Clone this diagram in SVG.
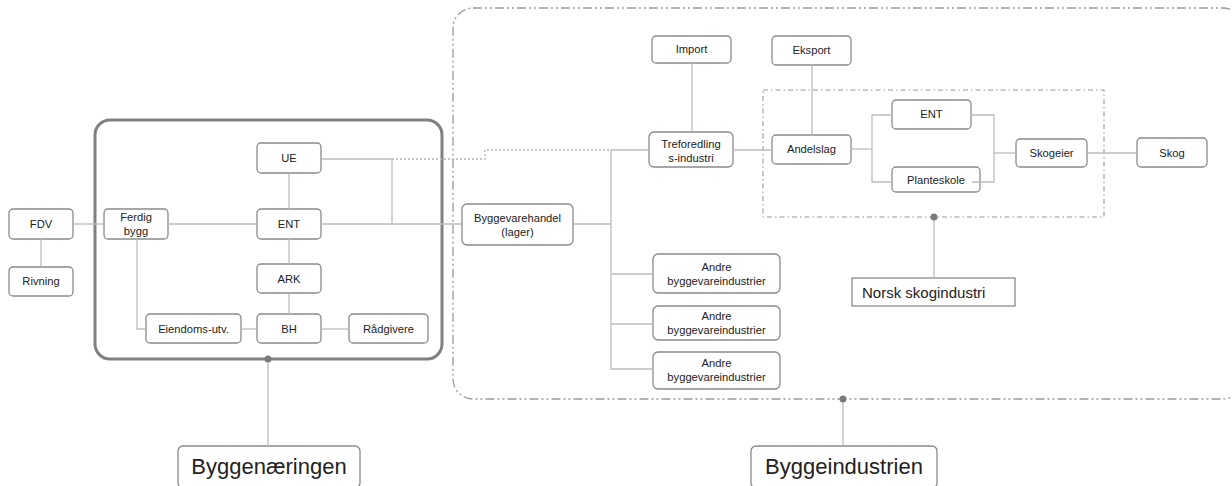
<svg xmlns="http://www.w3.org/2000/svg" width="1232" height="486" viewBox="0 0 1232 486">
<style>
.n rect{fill:#fff;stroke:#8a8a8a;stroke-width:1.3}
.n text{font-family:"Liberation Sans",Arial,sans-serif;font-size:11.2px;fill:#222;text-anchor:middle}
.c line,.c polyline{fill:none;stroke:#bdbdbd;stroke-width:1.3}
.c .dot{stroke:#b5b5b5;stroke-dasharray:2 2}
.n text.big{font-size:22px}
.n text.lab{font-size:15px;text-anchor:start}
</style>
<g id="frames">
<rect x="95" y="120" width="347" height="239" rx="15" fill="none" stroke="#808080" stroke-width="3"/>
<rect x="453" y="8" width="790" height="391" rx="20" fill="none" stroke="#9a9a9a" stroke-width="1.3" stroke-dasharray="9 3 2 3 2 3"/>
<rect x="763" y="90" width="341" height="127" fill="none" stroke="#9a9a9a" stroke-width="1.1" stroke-dasharray="5 3 1.5 3"/>
</g>
<g id="FDV" class="n"><rect x="9" y="209" width="64" height="30" rx="4"/><text x="41" y="228">FDV</text></g>
<g id="Rivning" class="n"><rect x="9" y="267" width="64" height="29" rx="4"/><text x="41" y="285">Rivning</text></g>
<g id="Ferdig" class="n"><rect x="104" y="209" width="64" height="30" rx="4"/><text x="136" y="221">Ferdig</text><text x="136" y="235">bygg</text></g>
<g id="UE" class="n"><rect x="257" y="143" width="64" height="30" rx="4"/><text x="289" y="162">UE</text></g>
<g id="ENT" class="n"><rect x="257" y="209" width="64" height="30" rx="4"/><text x="289" y="228">ENT</text></g>
<g id="ARK" class="n"><rect x="257" y="264" width="64" height="29" rx="4"/><text x="289" y="283">ARK</text></g>
<g id="Eiendoms" class="n"><rect x="146" y="314" width="95" height="29" rx="4"/><text x="193.5" y="333">Eiendoms-utv.</text></g>
<g id="BH" class="n"><rect x="257" y="314" width="64" height="29" rx="4"/><text x="289" y="333">BH</text></g>
<g id="Radgivere" class="n"><rect x="349" y="314" width="79" height="29" rx="4"/><text x="388.5" y="333">Rådgivere</text></g>
<g id="Byggevarehandel" class="n"><rect x="462" y="204" width="111" height="41" rx="5"/><text x="517.5" y="222">Byggevarehandel</text><text x="517.5" y="236">(lager)</text></g>
<g id="Import" class="n"><rect x="652" y="36" width="79" height="27" rx="4"/><text x="691.5" y="53">Import</text></g>
<g id="Treforedling" class="n"><rect x="649" y="132" width="84" height="35" rx="5"/><text x="691" y="148">Treforedling</text><text x="691" y="162">s-industri</text></g>
<g id="Andre1" class="n"><rect x="653" y="254" width="127" height="39" rx="5"/><text x="716.5" y="271">Andre</text><text x="716.5" y="285">byggevareindustrier</text></g>
<g id="Andre2" class="n"><rect x="653" y="306" width="127" height="34" rx="5"/><text x="716.5" y="320">Andre</text><text x="716.5" y="334">byggevareindustrier</text></g>
<g id="Andre3" class="n"><rect x="653" y="352" width="127" height="37" rx="5"/><text x="716.5" y="367">Andre</text><text x="716.5" y="381">byggevareindustrier</text></g>
<g id="Eksport" class="n"><rect x="772" y="36" width="79" height="29" rx="4"/><text x="811.5" y="54">Eksport</text></g>
<g id="Andelslag" class="n"><rect x="772" y="135" width="79" height="29" rx="4"/><text x="811.5" y="153">Andelslag</text></g>
<g id="ENT2" class="n"><rect x="892" y="100" width="79" height="29" rx="4"/><text x="931.5" y="118">ENT</text></g>
<g id="Planteskole" class="n"><rect x="892" y="167" width="88" height="25" rx="4"/><text x="936" y="184">Planteskole</text></g>
<g id="Skogeier" class="n"><rect x="1016" y="139" width="71" height="28" rx="4"/><text x="1051.5" y="157">Skogeier</text></g>
<g id="Skog" class="n"><rect x="1137" y="138" width="70" height="29" rx="4"/><text x="1172" y="157">Skog</text></g>
<g id="Norsk" class="n"><rect x="852" y="278" width="163" height="28" rx="0"/><text x="862" y="298" class="lab">Norsk skogindustri</text></g>
<g id="Byggenaeringen" class="n"><rect x="178" y="446" width="182" height="42" rx="5"/><text x="269" y="474" class="big">Byggenæringen</text></g>
<g id="Byggeindustrien" class="n"><rect x="751" y="446" width="186" height="42" rx="5"/><text x="844" y="474" class="big">Byggeindustrien</text></g>
<g id="connectors" class="c">
<line x1="73" y1="224" x2="104" y2="224"/>
<line x1="41" y1="239" x2="41" y2="267"/>
<line x1="168" y1="224" x2="257" y2="224"/>
<line x1="289" y1="173" x2="289" y2="209"/>
<line x1="289" y1="239" x2="289" y2="264"/>
<line x1="289" y1="293" x2="289" y2="314"/>
<polyline points="137,239 137,329 146,329"/>
<line x1="241" y1="329" x2="257" y2="329"/>
<line x1="321" y1="329" x2="349" y2="329"/>
<line x1="321" y1="224" x2="462" y2="224"/>
<polyline points="321,159 392,159 392,224"/>
<polyline class="dot" points="392,159 485,159 485,150 611,150"/>
<polyline points="573,224 611,224"/>
<polyline points="649,150 611,150 611,369 653,369"/>
<line x1="611" y1="274" x2="653" y2="274"/>
<line x1="611" y1="324" x2="653" y2="324"/>
<line x1="692" y1="63" x2="692" y2="132"/>
<line x1="733" y1="150" x2="772" y2="150"/>
<line x1="812" y1="65" x2="812" y2="135"/>
<line x1="851" y1="149" x2="872" y2="149"/>
<polyline points="892,115 872,115 872,182 892,182"/>
<polyline points="971,115 994,115 994,182 972,182"/>
<line x1="994" y1="153" x2="1016" y2="153"/>
<line x1="1087" y1="153" x2="1137" y2="153"/>
<line x1="268" y1="359" x2="268" y2="446"/>
<line x1="843" y1="399" x2="843" y2="446"/>
<line x1="934" y1="217" x2="934" y2="278"/>
<circle cx="268" cy="359" r="3.5" fill="#7a7a7a"/>
<circle cx="843" cy="399" r="3.5" fill="#7a7a7a"/>
<circle cx="934" cy="217" r="3.5" fill="#7a7a7a"/>
</g>
</svg>
